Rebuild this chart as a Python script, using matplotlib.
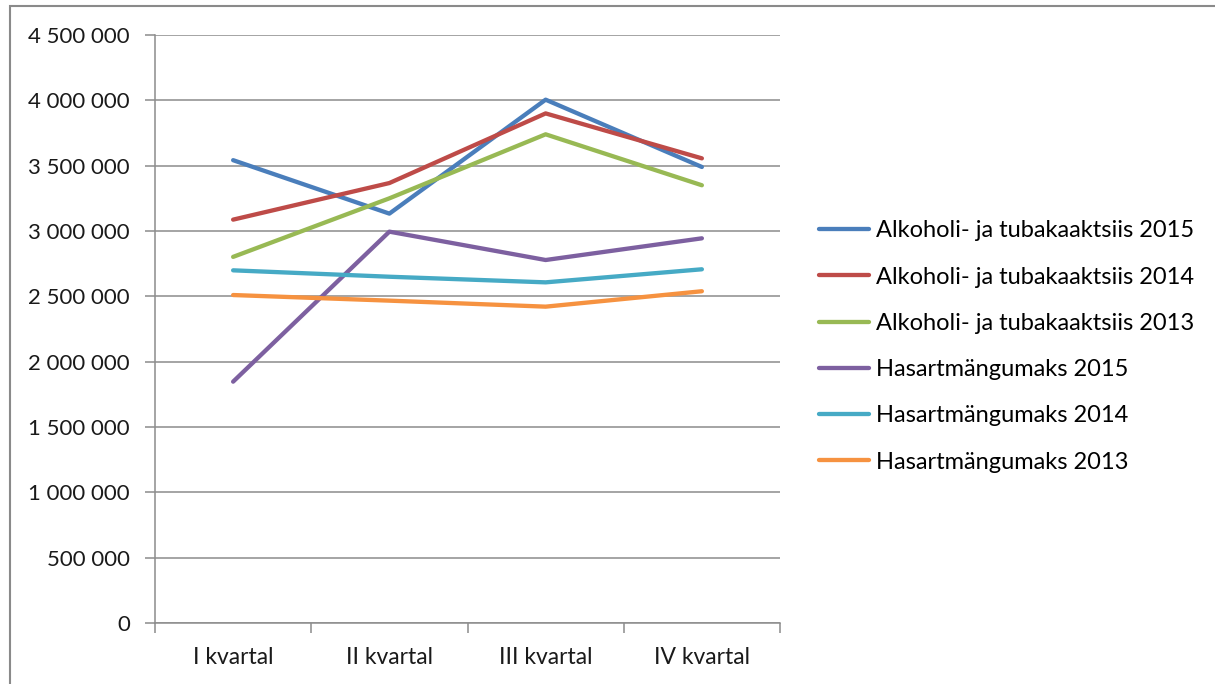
import matplotlib.pyplot as plt
import matplotlib.patches as mpatches
from matplotlib.ticker import FuncFormatter, FixedLocator

plt.rcParams['font.family'] = ['Lato', 'DejaVu Sans']

quarters = ['I kvartal', 'II kvartal', 'III kvartal', 'IV kvartal']

alk_2015 = [3542000, 3133000, 4005000, 3490000]
alk_2014 = [3087000, 3367000, 3900000, 3556000]
alk_2013 = [2802000, 3250000, 3740000, 3350000]
has_2015 = [1847000, 2995000, 2778000, 2944000]
has_2014 = [2699000, 2650000, 2607000, 2707000]
has_2013 = [2510000, 2467000, 2421000, 2539000]

series = [
    ('Alkoholi- ja tubakaaktsiis 2015', alk_2015, '#4A7EBB'),
    ('Alkoholi- ja tubakaaktsiis 2014', alk_2014, '#BE4B48'),
    ('Alkoholi- ja tubakaaktsiis 2013', alk_2013, '#98B954'),
    ('Hasartmängumaks 2015', has_2015, '#7D60A0'),
    ('Hasartmängumaks 2014', has_2014, '#46AAC5'),
    ('Hasartmängumaks 2013', has_2013, '#F69240'),
]

W, H = 1215, 684
fig = plt.figure(figsize=(W / 100, H / 100), dpi=100)

# outer chart border
fig.patches.append(mpatches.Rectangle((10 / W, -0.05), 1.2, 1 - 6 / H + 0.05,
                                      transform=fig.transFigure, fill=False,
                                      edgecolor='#8a8a8a', linewidth=1.5))

ax = fig.add_axes([155 / W, 1 - 623 / H, (780 - 155) / W, (623 - 35) / H])

x = list(range(len(quarters)))
for label, vals, color in series:
    ax.plot(x, vals, color=color, linewidth=3.1, label=label,
            solid_capstyle='round', solid_joinstyle='round')

ax.set_xlim(-0.5, 3.5)
ax.set_ylim(0, 4500000)
ax.yaxis.set_major_locator(FixedLocator(range(0, 4500001, 500000)))
ax.yaxis.set_major_formatter(FuncFormatter(lambda v, p: f'{int(v):,}'.replace(',', ' ')))
ax.grid(axis='y', color='#8c8c8c', linewidth=1.1)
ax.set_axisbelow(True)

# category labels centred, tick marks between categories
ax.set_xticks(x)
ax.set_xticklabels(quarters)
ax.tick_params(axis='x', length=0, pad=17, labelsize=16.5, colors='#1a1a1a')
ax.set_xticks([-0.5, 0.5, 1.5, 2.5, 3.5], minor=True)
ax.tick_params(axis='x', which='minor', length=7, color='#8c8c8c', width=1.1)
ax.tick_params(axis='y', length=7, color='#8c8c8c', width=1.1, labelsize=16,
               labelcolor='#1a1a1a', pad=11)

for side in ['top', 'right']:
    ax.spines[side].set_visible(False)
for side in ['left', 'bottom']:
    ax.spines[side].set_color('#8c8c8c')
    ax.spines[side].set_linewidth(1.1)

fig.legend(loc='center left', bbox_to_anchor=(819 / W, 1 - 346.5 / H),
           frameon=False, fontsize=17, handlelength=2.1, handletextpad=0.3,
           labelspacing=1.07, borderaxespad=0, borderpad=0)

fig.savefig('out.png', dpi=100)
